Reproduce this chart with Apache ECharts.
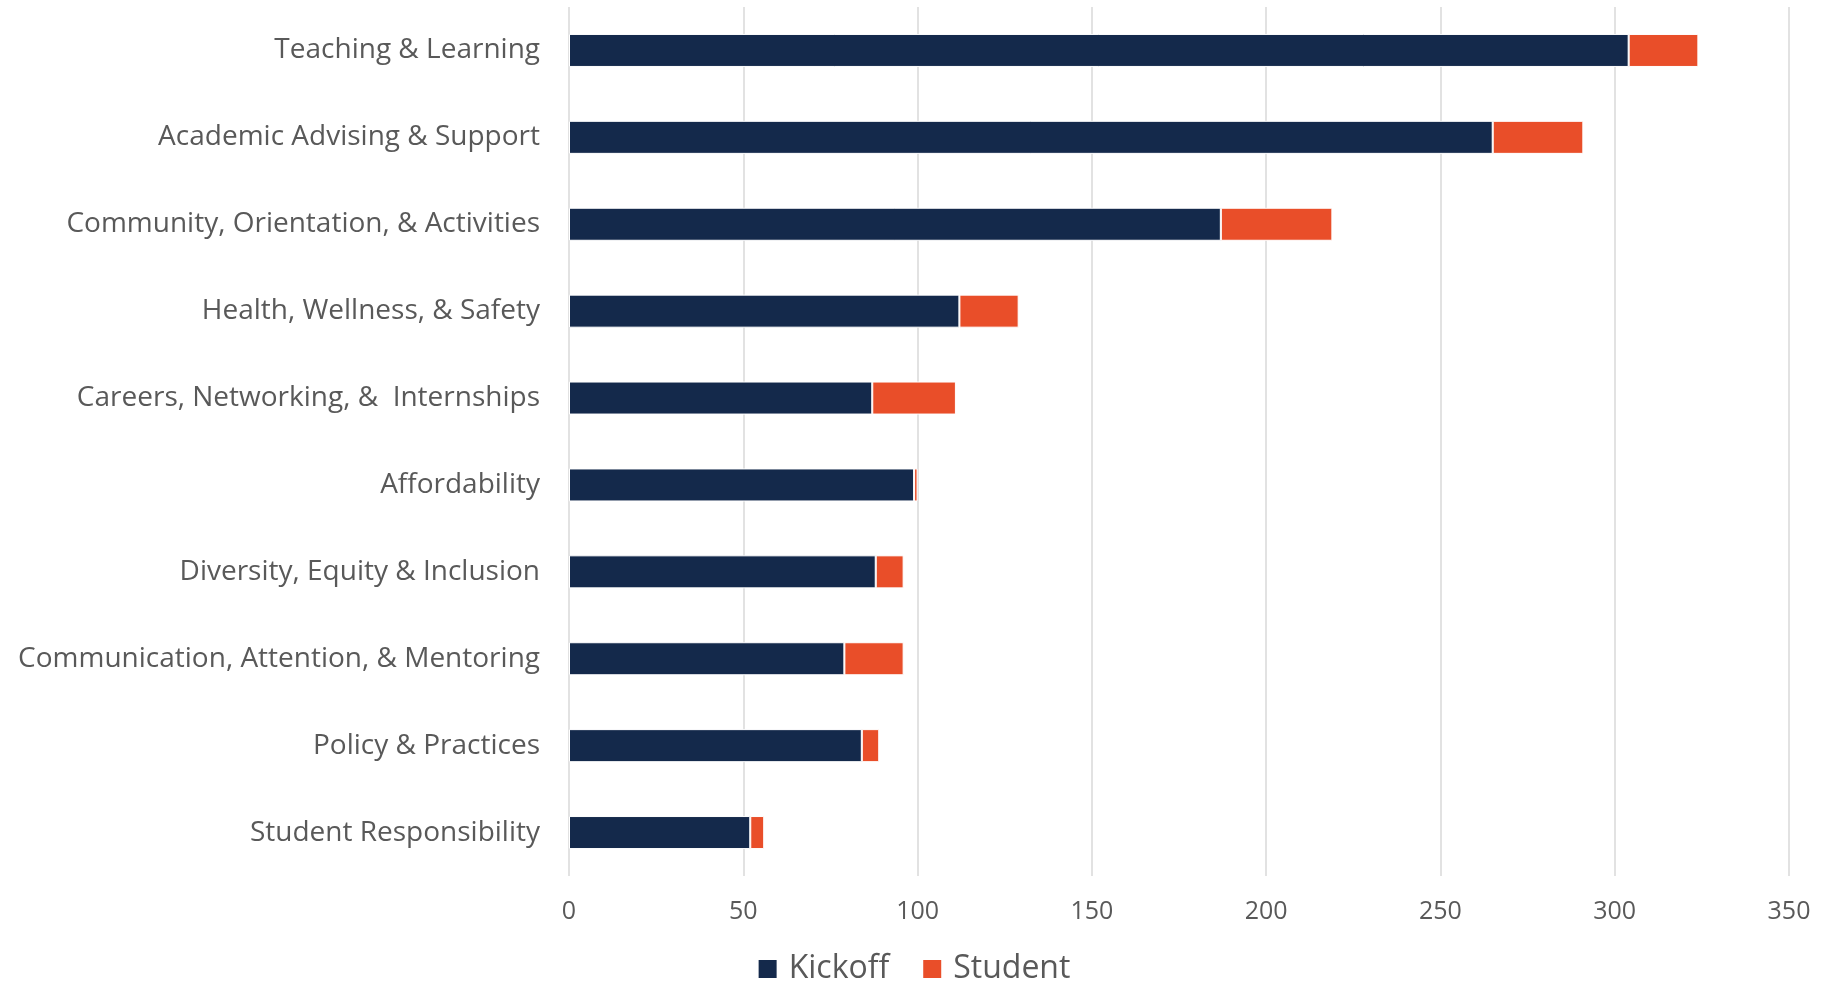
<!DOCTYPE html>
<html>
<head>
<meta charset="utf-8">
<script src="https://cdn.jsdelivr.net/npm/echarts@6/dist/echarts.min.js"></script>
<style>
html,body{margin:0;padding:0;background:#fff;}
#chart{width:1827px;height:983px;}
</style>
</head>
<body>
<div id="chart"></div>
<script>
const categories = [
  "Teaching & Learning",
  "Academic Advising & Support",
  "Community, Orientation, & Activities",
  "Health, Wellness, & Safety",
  "Careers, Networking, &  Internships",
  "Affordability",
  "Diversity, Equity & Inclusion",
  "Communication, Attention, & Mentoring",
  "Policy & Practices",
  "Student Responsibility"
];
const kickoff = [304, 265, 187, 112, 87, 99, 88, 79, 84, 52];
const student = [20, 26, 32, 17, 24, 1, 8, 17, 5, 4];
const xTicks = { min: 0, max: 350, interval: 50 };

const chart = echarts.init(document.getElementById('chart'), null, {renderer: 'canvas'});
const labelColor = '#595959';
const fontFamily = '"Open Sans", Lato, sans-serif';
chart.setOption({
  animation: false,
  backgroundColor: '#ffffff',
  grid: { left: 569, right: 38, top: 7, bottom: 107, containLabel: false },
  legend: {
    data: ['Kickoff', 'Student'],
    left: 'center',
    top: 948,
    itemWidth: 20,
    itemHeight: 20,
    itemGap: 32,
    icon: 'rect',
    textStyle: { color: labelColor, fontSize: 32, fontFamily: fontFamily, padding: [0, 0, 0, 6] }
  },
  xAxis: {
    type: 'value',
    min: xTicks.min, max: xTicks.max, interval: xTicks.interval,
    axisLine: { show: false },
    axisTick: { show: false },
    splitLine: { show: true, lineStyle: { color: '#D9D9D9', width: 1.5 } },
    axisLabel: { color: labelColor, fontSize: 25, fontFamily: fontFamily, margin: 23 }
  },
  yAxis: {
    type: 'category',
    inverse: true,
    data: categories,
    axisLine: { show: false },
    axisTick: { show: false },
    axisLabel: { color: labelColor, fontSize: 28, fontFamily: fontFamily, margin: 29 }
  },
  series: [
    {
      name: 'Kickoff', type: 'bar', stack: 'total', data: kickoff,
      barWidth: '38%',
      itemStyle: { color: '#14294B', borderColor: '#ffffff', borderWidth: 1 }
    },
    {
      name: 'Student', type: 'bar', stack: 'total', data: student,
      barWidth: '38%',
      itemStyle: { color: '#E94E29', borderColor: '#ffffff', borderWidth: 1 }
    }
  ]
});
</script>
</body>
</html>
